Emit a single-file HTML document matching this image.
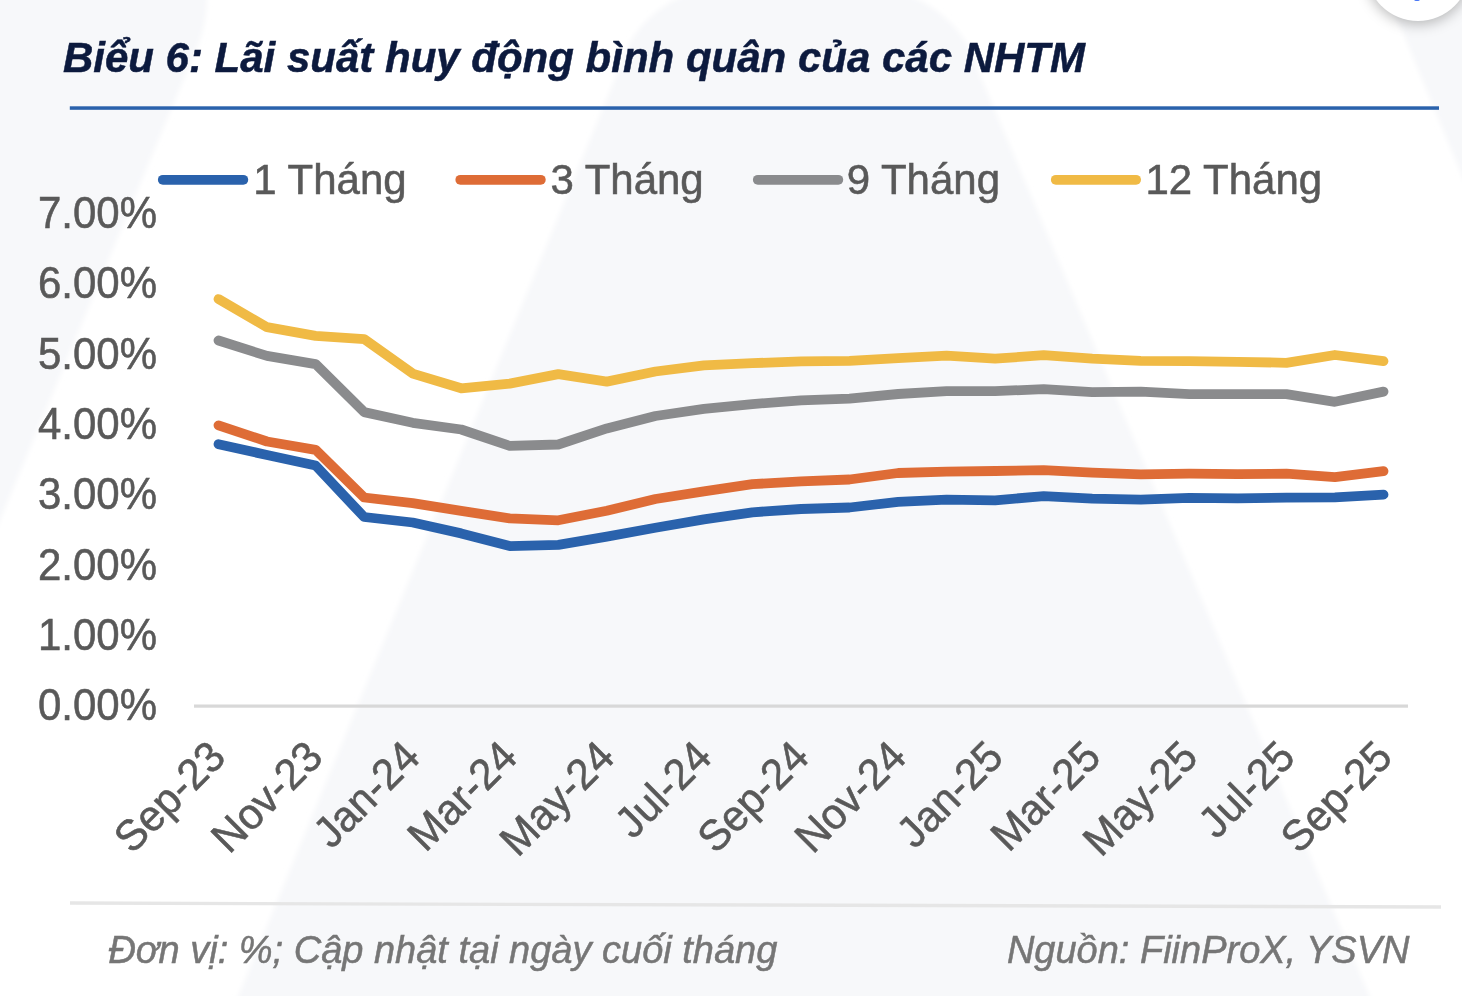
<!DOCTYPE html>
<html lang="vi">
<head>
<meta charset="utf-8">
<title>Biểu 6: Lãi suất huy động bình quân của các NHTM</title>
<style>
html,body{margin:0;padding:0;}
body{width:1462px;height:996px;overflow:hidden;background:#fff;position:relative;font-family:"Liberation Sans",sans-serif;}
svg{position:absolute;left:0;top:0;}
.bg path{fill:#f7f8fa;}
.title{font-weight:bold;font-style:italic;font-size:42px;fill:#0c1a3e;stroke:#0c1a3e;stroke-width:.5px;}
.ax text,.leg text{font-size:42px;fill:#595959;stroke:#595959;stroke-width:.55px;}
.foot text{font-size:38px;stroke:#767676;stroke-width:.5px;font-style:italic;fill:#767676;}
.fab{position:absolute;left:1365.6px;top:-83.5px;width:104px;height:104px;border-radius:50%;background:#fff;box-shadow:0 3px 14px rgba(0,0,0,.28);}
.fab i{position:absolute;left:48.4px;top:81.5px;width:5.6px;height:3px;background:#4a78f6;border-radius:0 0 2px 2px;}
</style>
</head>
<body>
<svg width="1462" height="996" viewBox="0 0 1462 996" font-family="'Liberation Sans', sans-serif">
<defs><filter id="soft" x="-5%" y="-5%" width="110%" height="110%"><feGaussianBlur stdDeviation="2.5"/></filter></defs>
<g class="bg" filter="url(#soft)">
<path d="M-20,-20 L207,-20 L207,0 C207,15 203,35 196,50 L-20,568 Z"/>
<path d="M230,1016 L630,42 C642,22 658,8 677,-1 L698,-10 L896,-10 L917,-1 C936,8 953,22 966,42 L1378,1016 Z"/>
<path d="M1381,-20 L1479,217 L1482,217 L1482,-20 Z"/>
</g>
<text class="title" transform="translate(62.9,71.9) scale(1,1.0)">Biểu 6: Lãi suất huy động bình quân của các NHTM</text>
<rect x="69.8" y="106.3" width="1369.2" height="3.5" fill="#2a62ac"/>
<g class="leg">
<line x1="162.8" y1="179.8" x2="243.3" y2="179.8" stroke="#2a62ac" stroke-width="9.8" stroke-linecap="round"/>
<text transform="translate(253.3,193.6) scale(1,1.03)">1 Tháng</text>
<line x1="460.3" y1="179.8" x2="540.8" y2="179.8" stroke="#de6c36" stroke-width="9.8" stroke-linecap="round"/>
<text transform="translate(550.4,193.6) scale(1,1.03)">3 Tháng</text>
<line x1="757.8" y1="179.8" x2="838.3" y2="179.8" stroke="#8a8b8d" stroke-width="9.8" stroke-linecap="round"/>
<text transform="translate(846.7,193.6) scale(1,1.03)">9 Tháng</text>
<line x1="1055.8" y1="179.8" x2="1136.1" y2="179.8" stroke="#f0ba45" stroke-width="9.8" stroke-linecap="round"/>
<text transform="translate(1145.5,193.6) scale(1,1.03)">12 Tháng</text>
</g>
<g class="ax">
<text transform="translate(157,720.1) scale(1,1.055)" text-anchor="end">0.00%</text>
<text transform="translate(157,649.8) scale(1,1.055)" text-anchor="end">1.00%</text>
<text transform="translate(157,579.5) scale(1,1.055)" text-anchor="end">2.00%</text>
<text transform="translate(157,509.2) scale(1,1.055)" text-anchor="end">3.00%</text>
<text transform="translate(157,438.9) scale(1,1.055)" text-anchor="end">4.00%</text>
<text transform="translate(157,368.6) scale(1,1.055)" text-anchor="end">5.00%</text>
<text transform="translate(157,298.4) scale(1,1.055)" text-anchor="end">6.00%</text>
<text transform="translate(157,228.1) scale(1,1.055)" text-anchor="end">7.00%</text>
<rect x="194" y="704.5" width="1214" height="3.2" fill="#d8d8d8"/>
<text transform="translate(227.8,759.3) rotate(-45) scale(1,1.03)" text-anchor="end">Sep-23</text>
<text transform="translate(325.0,759.3) rotate(-45) scale(1,1.03)" text-anchor="end">Nov-23</text>
<text transform="translate(422.3,759.3) rotate(-45) scale(1,1.03)" text-anchor="end">Jan-24</text>
<text transform="translate(519.5,759.3) rotate(-45) scale(1,1.03)" text-anchor="end">Mar-24</text>
<text transform="translate(616.7,759.3) rotate(-45) scale(1,1.03)" text-anchor="end">May-24</text>
<text transform="translate(714.0,759.3) rotate(-45) scale(1,1.03)" text-anchor="end">Jul-24</text>
<text transform="translate(811.2,759.3) rotate(-45) scale(1,1.03)" text-anchor="end">Sep-24</text>
<text transform="translate(908.4,759.3) rotate(-45) scale(1,1.03)" text-anchor="end">Nov-24</text>
<text transform="translate(1005.6,759.3) rotate(-45) scale(1,1.03)" text-anchor="end">Jan-25</text>
<text transform="translate(1102.9,759.3) rotate(-45) scale(1,1.03)" text-anchor="end">Mar-25</text>
<text transform="translate(1200.1,759.3) rotate(-45) scale(1,1.03)" text-anchor="end">May-25</text>
<text transform="translate(1297.3,759.3) rotate(-45) scale(1,1.03)" text-anchor="end">Jul-25</text>
<text transform="translate(1394.6,759.3) rotate(-45) scale(1,1.03)" text-anchor="end">Sep-25</text>
</g>
<g class="lines">
<polyline points="218.5,444.2 267.0,455.0 315.6,465.5 364.1,517.0 412.7,522.5 461.2,533.4 509.7,546.1 558.3,544.9 606.8,536.6 655.4,527.8 703.9,519.4 752.4,512.3 801.0,509.0 849.5,507.5 898.1,501.8 946.6,499.7 995.1,500.3 1043.7,496.2 1092.2,498.7 1140.8,499.6 1189.3,497.9 1237.8,498.3 1286.4,497.7 1334.9,497.3 1383.5,494.6" fill="none" stroke="#2a62ac" stroke-width="9.8" stroke-linecap="round" stroke-linejoin="round"/>
<polyline points="218.5,425.3 267.0,441.5 315.6,449.8 364.1,497.5 412.7,503.2 461.2,510.8 509.7,518.4 558.3,520.3 606.8,510.8 655.4,499.0 703.9,491.3 752.4,484.2 801.0,481.4 849.5,479.5 898.1,473.0 946.6,471.6 995.1,471.0 1043.7,470.2 1092.2,472.6 1140.8,474.3 1189.3,473.7 1237.8,474.1 1286.4,473.7 1334.9,477.1 1383.5,471.2" fill="none" stroke="#de6c36" stroke-width="9.8" stroke-linecap="round" stroke-linejoin="round"/>
<polyline points="218.5,340.5 267.0,355.9 315.6,364.1 364.1,412.1 412.7,422.8 461.2,429.5 509.7,445.9 558.3,444.5 606.8,428.4 655.4,416.0 703.9,408.9 752.4,404.1 801.0,400.3 849.5,398.7 898.1,394.0 946.6,391.2 995.1,391.2 1043.7,389.1 1092.2,392.2 1140.8,391.6 1189.3,394.2 1237.8,394.2 1286.4,394.2 1334.9,401.8 1383.5,391.6" fill="none" stroke="#8a8b8d" stroke-width="9.8" stroke-linecap="round" stroke-linejoin="round"/>
<polyline points="218.5,299.1 267.0,327.2 315.6,335.8 364.1,339.1 412.7,373.6 461.2,388.3 509.7,383.6 558.3,374.1 606.8,381.6 655.4,371.5 703.9,365.4 752.4,363.2 801.0,361.4 849.5,360.9 898.1,358.1 946.6,355.7 995.1,358.7 1043.7,355.2 1092.2,358.7 1140.8,360.8 1189.3,361.2 1237.8,361.8 1286.4,362.8 1334.9,355.0 1383.5,361.2" fill="none" stroke="#f0ba45" stroke-width="9.8" stroke-linecap="round" stroke-linejoin="round"/>
</g>
<line x1="70" y1="903" x2="1441" y2="907" stroke="#e6e6e6" stroke-width="3.3"/>
<g class="foot">
<text transform="translate(108.2,963.4) scale(1,1.03)">Đơn vị: %; Cập nhật tại ngày cuối tháng</text>
<text transform="translate(1409.5,963.4) scale(1,1.03)" text-anchor="end">Nguồn: FiinProX, YSVN</text>
</g>
</svg>
<div class="fab"><i></i></div>
</body>
</html>
